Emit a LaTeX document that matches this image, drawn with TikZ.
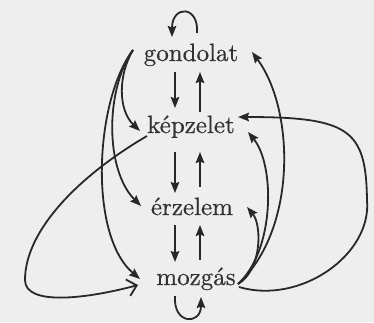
\documentclass[tikz,border=0pt]{standalone}
\usepackage{fontspec}
\newfontfamily\labfont[FakeBold=0.6]{lmroman10-regular.otf}
\usetikzlibrary{arrows.meta,calc}
\definecolor{ink}{RGB}{40,40,40}
\definecolor{txt}{RGB}{50,50,50}
\definecolor{paper}{RGB}{238,238,238}
\begin{document}
\begin{tikzpicture}[x=1pt,y=-1pt,
  lbl/.style={font=\labfont\fontsize{25}{25}\selectfont, text=txt, inner sep=0pt, anchor=base},
  link/.style={draw=ink, line width=1.8pt, -{Stealth[length=11pt,width=8.5pt,inset=1.5pt]}},
  openlink/.style={draw=ink, line width=1.8pt, -{Straight Barb[length=9pt,width=17pt]}}]
\fill[paper] (0,0) rectangle (374,322);
\useasboundingbox (0,0) rectangle (374,322);

\node[lbl] (g) at (191,61) {gondolat};
\node[lbl] (k) at (191,133) {képzelet};
\node[lbl] (e) at (192,215) {érzelem};
\node[lbl] (m) at (196,285) {mozgás};

% self loops
\draw[link] ($(g.base)+(6,-28)$) .. controls (199,5) and (172,5) .. ($(g.base)+(-19,-24)$);
\draw[link] ($(m.base)+(-21,11)$) .. controls (173,325) and (201,325) .. ($(m.base)+(5,12)$);

% vertical arrows
\draw[link] ($(g.base)+(-16,11)$) -- ($(k.base)+(-16,-25)$);
\draw[link] ($(k.base)+(9,-21)$) -- ($(g.base)+(9,11)$);
\draw[link] ($(k.base)+(-16,19)$) -- ($(e.base)+(-17,-22)$);
\draw[link] ($(e.base)+(8,-28)$) -- ($(k.base)+(9,19)$);
\draw[link] ($(e.base)+(-17,10)$) -- ($(m.base)+(-21,-23)$);
\draw[link] ($(m.base)+(4,-25)$) -- ($(e.base)+(8,10)$);

% left fan from gondolat
\draw[link] ($(g.base)+(-58,-11)$) .. controls (118,75) and (118,110) .. ($(k.base)+(-51,-2)$);
\draw[link] ($(g.base)+(-58,-11)$) .. controls (105,90) and (105,170) .. ($(e.base)+(-51,-9)$);
\draw[link] ($(g.base)+(-58,-11)$) .. controls (95,100) and (88,235) .. ($(m.base)+(-56,-6)$);

% big left loop from kepzelet to mozgas
\draw[openlink] ($(k.base)+(-44,3)$) .. controls (80,175) and (25,230) .. (25,280)
  .. controls (25,307) and (90,298) .. ($(m.base)+(-58,0)$);

% right fan from mozgas
\draw[link] ($(m.base)+(42,-1)$) .. controls (262,270) and (262,225) .. ($(e.base)+(55,-8)$);
\draw[link] ($(m.base)+(42,-1)$) .. controls (275,250) and (275,165) .. ($(k.base)+(57,-1)$);
\draw[link] ($(m.base)+(42,-1)$) .. controls (297,230) and (295,110) .. ($(g.base)+(61,-9)$);

% big right loop from mozgas to kepzelet
\draw[link] ($(m.base)+(43,2)$) .. controls (300,305) and (372,255) .. (367,200)
  .. controls (366,130) and (350,117) .. ($(k.base)+(47,-16)$);
\end{tikzpicture}
\end{document}
